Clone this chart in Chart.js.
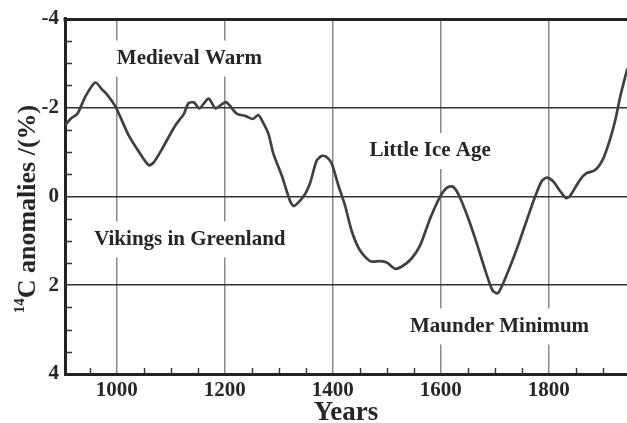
<!DOCTYPE html>
<html>
<head>
<meta charset="utf-8">
<script src="https://cdn.jsdelivr.net/npm/chart.js@4.4.1/dist/chart.umd.min.js"></script>
<style>
html,body{margin:0;padding:0;background:#fff;}
canvas{display:block;}
</style>
</head>
<body>
<canvas id="c" width="627" height="423"></canvas>
<script>
// Data
const years = [904,915,927,942,960,973,982,997,1007,1022,1041,1059,1068,1084,1108,1124,1133,1143,1153,1170,1183,1202,1222,1238,1252,1262,1271,1281,1290,1306,1321,1328,1346,1358,1370,1380,1389,1398,1410,1423,1435,1450,1469,1488,1500,1515,1528,1546,1562,1580,1599,1611,1622,1633,1648,1667,1682,1696,1706,1722,1741,1759,1775,1787,1796,1808,1821,1832,1839,1858,1870,1886,1901,1913,1923,1932,1941,1946];
const anomalies = [-1.60,-1.75,-1.86,-2.25,-2.56,-2.40,-2.29,-2.03,-1.77,-1.37,-1.00,-0.70,-0.76,-1.07,-1.59,-1.85,-2.10,-2.11,-1.98,-2.20,-1.98,-2.12,-1.86,-1.81,-1.74,-1.83,-1.66,-1.40,-0.96,-0.45,0.11,0.22,0.00,-0.30,-0.80,-0.91,-0.88,-0.74,-0.26,0.22,0.78,1.21,1.46,1.46,1.49,1.63,1.58,1.40,1.10,0.51,0.00,-0.19,-0.22,-0.04,0.40,1.07,1.65,2.12,2.18,1.77,1.18,0.55,0.00,-0.34,-0.42,-0.34,-0.12,0.04,0.00,-0.37,-0.52,-0.59,-0.85,-1.26,-1.70,-2.22,-2.66,-2.88];
const xTickYears = [1000,1200,1400,1600,1800];
const xMinorYears = [950,1050,1100,1150,1250,1300,1350,1450,1500,1550,1650,1700,1750,1850,1900];
const yTickValues = [-4,-2,0,2,4];
const yMinorValues = [-3.5,-3,-2.5,-1.5,-1,-0.5,0.5,1,1.5,2.5,3,3.5];
const annotations = [
  {text:'Medieval Warm', year:1000, value:-3.10},
  {text:'Little Ice Age', year:1468, value:-1.02},
  {text:'Vikings in Greenland', year:958, value:0.97},
  {text:'Maunder Minimum', year:1543, value:2.93}
];
const xTitle = 'Years';
const yTitleSup = '14';
const yTitleMain = 'C anomalies /(%)';

const SERIF = '"Liberation Serif", "Times New Roman", serif';

const decor = {
  id:'decor',
  beforeDatasetsDraw(chart){
    const ctx = chart.ctx, x = chart.scales.x, y = chart.scales.y, a = chart.chartArea;
    ctx.save();
    // minor ticks
    ctx.strokeStyle = '#333';
    ctx.lineWidth = 1.4;
    ctx.beginPath();
    yMinorValues.forEach(v=>{
      const py = Math.round(y.getPixelForValue(v))+0.5;
      ctx.moveTo(a.left, py); ctx.lineTo(a.left+7, py);
    });
    xMinorYears.forEach(v=>{
      const px = Math.round(x.getPixelForValue(v))+0.5;
      ctx.moveTo(px, a.bottom); ctx.lineTo(px, a.bottom-6);
    });
    ctx.stroke();
    // top frame line
    ctx.strokeStyle = '#222';
    ctx.lineWidth = 3;
    ctx.beginPath();
    ctx.moveTo(a.left-1.5, a.top+1); ctx.lineTo(a.right, a.top+1);
    ctx.stroke();
    // annotations with white boxes
    ctx.font = 'bold 21px ' + SERIF;
    ctx.textBaseline = 'middle';
    ctx.textAlign = 'left';
    annotations.forEach(an=>{
      const px = x.getPixelForValue(an.year), py = y.getPixelForValue(an.value);
      const w = ctx.measureText(an.text).width;
      ctx.fillStyle = '#fff';
      ctx.fillRect(px-6, py-18, w+12, 36);
      ctx.fillStyle = '#262626';
      ctx.fillText(an.text, px, py);
    });
    // y title with superscript
    ctx.translate(27, 209);
    ctx.rotate(-Math.PI/2);
    const fMain = 'bold 26px ' + SERIF, fSup = 'bold 15px ' + SERIF;
    ctx.font = fSup; const wSup = ctx.measureText(yTitleSup).width;
    ctx.font = fMain; const wMain = ctx.measureText(yTitleMain).width;
    const start = -(wSup + wMain)/2;
    ctx.fillStyle = '#262626';
    ctx.textBaseline = 'alphabetic';
    ctx.font = fSup; ctx.fillText(yTitleSup, start, -3);
    ctx.font = fMain; ctx.fillText(yTitleMain, start + wSup, 8);
    ctx.restore();
  }
};

new Chart(document.getElementById('c'), {
  type:'line',
  data:{
    datasets:[{
      data: years.map((yr,i)=>({x:yr, y:anomalies[i]})),
      borderColor:'#404040',
      borderWidth:2.7,
      pointRadius:0,
      tension:0.25,
      fill:false
    }]
  },
  options:{
    responsive:false,
    animation:false,
    devicePixelRatio:1,
    layout:{padding:{top:13,left:0,right:0,bottom:0}},
    plugins:{legend:{display:false}, tooltip:{enabled:false}},
    scales:{
      x:{
        type:'linear', min:904, max:1945,
        afterBuildTicks(s){ s.ticks = xTickYears.map(v=>({value:v})); },
        afterFit(s){ s.height = 49; },
        grid:{color:'#8a8a8a', lineWidth:1.5, drawTicks:false},
        border:{display:true, color:'#222', width:3},
        ticks:{font:{family:SERIF, size:21, weight:'bold', lineHeight:1}, color:'#262626', padding:6, maxRotation:0, autoSkip:false,
               callback:v=>String(v)},
        title:{display:true, text:xTitle, font:{family:SERIF, size:27, weight:'bold', lineHeight:'20px'}, color:'#262626', padding:0}
      },
      y:{
        type:'linear', min:-4, max:4, reverse:true,
        afterBuildTicks(s){ s.ticks = yTickValues.map(v=>({value:v})); },
        afterFit(s){ s.width = 65; },
        grid:{color:c=> (Math.abs(c.tick && c.tick.value)===4 ? 'rgba(0,0,0,0)' : '#333'), lineWidth:1.5, drawTicks:false},
        border:{display:true, color:'#222', width:3},
        ticks:{font:{family:SERIF, size:21, weight:'bold'}, color:'#262626', padding:6, callback:v=>String(v)}
      }
    }
  },
  plugins:[decor]
});
</script>
</body>
</html>
